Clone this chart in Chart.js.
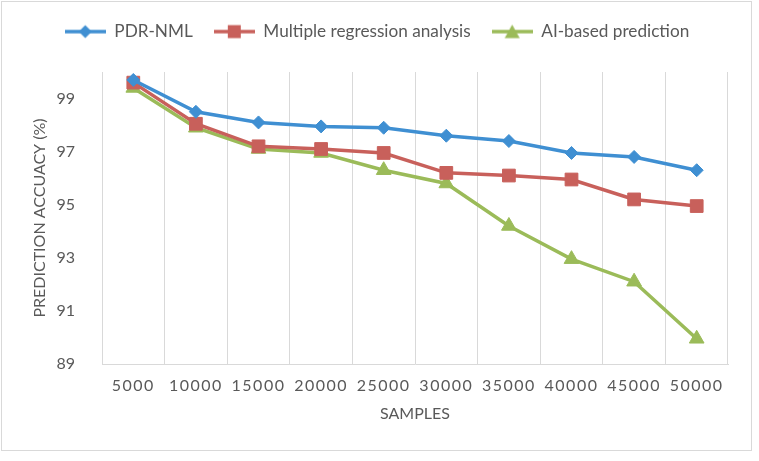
<!DOCTYPE html>
<html>
<head>
<meta charset="utf-8">
<script src="https://cdn.jsdelivr.net/npm/chart.js@4"></script>
<style>
  html, body { margin: 0; padding: 0; background: #fff; }
  #box {
    position: absolute; left: 1px; top: 1px;
    width: 749px; height: 448px;
    border: 1px solid #d9d9d9;
  }
</style>
</head>
<body>
<div id="box"><canvas id="accChart" width="749" height="448"></canvas></div>
<script>
const samples = ['5000', '10000', '15000', '20000', '25000', '30000', '35000', '40000', '45000', '50000'];
const pdrNml = [99.7, 98.5, 98.1, 97.95, 97.9, 97.6, 97.4, 96.95, 96.8, 96.3];
const regression = [99.6, 98.05, 97.2, 97.1, 96.95, 96.2, 96.1, 95.95, 95.2, 94.95];
const aiPrediction = [99.4, 97.9, 97.1, 96.95, 96.3, 95.8, 94.2, 92.95, 92.1, 89.95];
const yTicks = [89, 91, 93, 95, 97, 99];

const blue = '#3f8fd2';
const red = '#c8605b';
const green = '#9bbb59';
const textColor = '#595959';

// small legend icon: line with marker in the middle
function legendIcon(color, style) {
    let c = document.createElement('canvas');
    c.width = 41;
    c.height = 18;
    let g = c.getContext('2d');
    g.strokeStyle = color;
    g.fillStyle = color;
    g.lineWidth = 3.5;
    g.beginPath();
    g.moveTo(0, 9);
    g.lineTo(41, 9);
    g.stroke();
    g.beginPath();
    if (style == 'diamond') {
        g.moveTo(20.5, 2.5); g.lineTo(27, 9); g.lineTo(20.5, 15.5); g.lineTo(14, 9);
    } else if (style == 'square') {
        g.rect(14, 2.5, 13, 13);
    } else {
        g.moveTo(20.5, 2); g.lineTo(28, 15.5); g.lineTo(13, 15.5);
    }
    g.closePath();
    g.fill();
    return c;
}

const icons = [legendIcon(blue, 'diamond'), legendIcon(red, 'square'), legendIcon(green, 'triangle')];

// x tick labels in the picture are letter-spaced,
// and the legend needs a bigger gap below it
const tweaks = {
    id: 'tweaks',
    afterInit(chart) {
        let lg = chart.legend;
        let origFit = lg.fit.bind(lg);
        lg.fit = function () {
            origFit();
            this.height = 70;
        };
    },
    beforeDraw(chart) {
        let xs = chart.scales.x;
        if (!xs || xs._spaced) return;
        let orig = xs.drawLabels.bind(xs);
        xs.drawLabels = function (area) {
            this.ctx.save();
            this.ctx.letterSpacing = '1.5px';
            orig(area);
            this.ctx.restore();
        };
        xs._spaced = true;
    }
};

const ctx = document.getElementById('accChart').getContext('2d');
const myChart = new Chart(ctx, {
    type: 'line',
    data: {
        labels: samples,
        datasets: [{
            label: 'PDR-NML',
            data: pdrNml,
            borderColor: blue,
            backgroundColor: blue,
            borderWidth: 3.5,
            pointStyle: 'rectRot',
            pointRadius: 6.5,
            pointBorderWidth: 1
        }, {
            label: 'Multiple regression analysis',
            data: regression,
            borderColor: red,
            backgroundColor: red,
            borderWidth: 3.5,
            pointStyle: 'rect',
            pointRadius: 9,
            pointBorderWidth: 1
        }, {
            label: 'AI-based prediction',
            data: aiPrediction,
            borderColor: green,
            backgroundColor: green,
            borderWidth: 3.5,
            pointStyle: 'triangle',
            pointRadius: 8.5,
            pointBorderWidth: 1
        }]
    },
    options: {
        responsive: false,
        animation: false,
        layout: {
            padding: { left: 24, right: 23, top: 0, bottom: 23 }
        },
        plugins: {
            tooltip: { enabled: false },
            legend: {
                position: 'top',
                labels: {
                    color: textColor,
                    font: { family: 'Lato', size: 17.2 },
                    usePointStyle: true,
                    pointStyleWidth: 41,
                    padding: 21,
                    generateLabels(chart) {
                        let items = Chart.defaults.plugins.legend.labels.generateLabels(chart);
                        items.forEach((it, i) => { it.pointStyle = icons[i]; });
                        return items;
                    }
                }
            }
        },
        scales: {
            x: {
                offset: true,
                grid: { color: '#d9d9d9', offset: true, drawTicks: false },
                border: { color: '#d9d9d9' },
                ticks: {
                    color: textColor,
                    font: { family: 'Lato', size: 16 },
                    padding: 12,
                    maxRotation: 0
                },
                title: {
                    display: true,
                    text: 'SAMPLES',
                    color: textColor,
                    font: { family: 'Lato', size: 16 }
                },
                afterFit(scale) { scale.height = 63; }
            },
            y: {
                min: 89,
                max: 100,
                grid: { display: false },
                border: { display: false },
                ticks: {
                    color: textColor,
                    font: { family: 'Lato', size: 16 },
                    padding: 19
                },
                afterBuildTicks(scale) {
                    scale.ticks = yTicks.map(v => ({ value: v }));
                },
                title: {
                    display: true,
                    text: 'PREDICTION ACCUACY (%)',
                    color: textColor,
                    font: { family: 'Lato', size: 16 }
                },
                afterFit(scale) { scale.width = 76; }
            }
        }
    },
    plugins: [tweaks]
});
</script>
</body>
</html>
